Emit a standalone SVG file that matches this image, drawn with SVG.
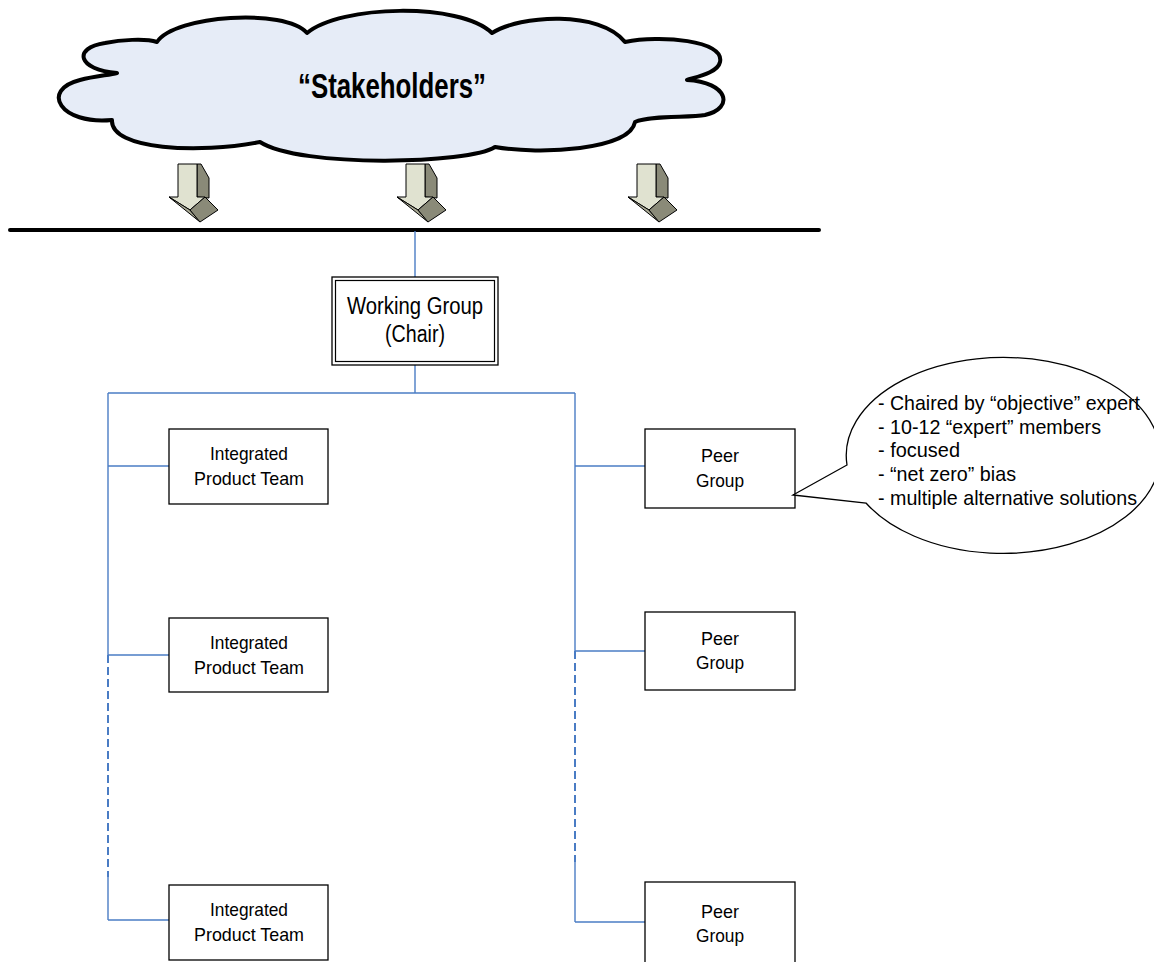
<svg xmlns="http://www.w3.org/2000/svg" width="1154" height="962" viewBox="0 0 1154 962">
<style>
text{font-family:"Liberation Sans",Arial,sans-serif;fill:#000}
.box{fill:#fff;stroke:#000;stroke-width:1.3}
.conn{stroke:#4a7cc4;stroke-width:1.4;fill:none}
.dash{stroke:#4a7cc4;stroke-width:2;fill:none;stroke-dasharray:8 4}
.lbl{font-size:19px;text-anchor:middle}
.note{font-size:21px}
.lt{fill:#e0e2d0;stroke:#000;stroke-width:1}
.dk{fill:#8a8a78;stroke:#000;stroke-width:1}
.md{fill:#a9a994;stroke:#000;stroke-width:1}
</style>
<defs>
<g id="bentArrow">
<polygon class="dk" points="197,164 201,164 209,178 209,198 197,197"/>
<polygon class="lt" points="178,164 197,164 197,197 205,197 190,210 169,197 178,197"/>
<polygon class="md" points="169,197 190,210 200,222"/>
<polygon class="dk" points="190,210 205,197 218,210 200,222"/>
</g>
</defs>
<g id="stakeholders">
<path d="M117,73 C78,70 72,48 105,43 C120,40 145,38 157,42 C175,15 285,8 307,33 C340,5 460,2 492,33 C520,15 600,10 625,42 C660,35 725,40 720,62 C718,72 700,76 687,80 C728,82 735,108 705,115 C690,118 650,115 635,122 C630,150 540,155 495,147 C470,164 300,168 260,142 C200,154 110,150 112,120 C60,125 40,90 80,80 C95,76 110,75 117,73 Z" fill="#e6ecf7" stroke="#000" stroke-width="4" stroke-linejoin="round"/>
<text x="392" y="98" font-size="35" font-weight="bold" text-anchor="middle" textLength="188" lengthAdjust="spacingAndGlyphs">“Stakeholders”</text>
</g>
<g id="arrows">
<use href="#bentArrow"/>
<use href="#bentArrow" x="228"/>
<use href="#bentArrow" x="459"/>
</g>
<line x1="10" y1="230" x2="819" y2="230" stroke="#000" stroke-width="4" stroke-linecap="round"/>
<g id="connectors">
<line class="conn" x1="415" y1="231" x2="415" y2="277"/>
<line class="conn" x1="415" y1="365" x2="415" y2="393"/>
<line class="conn" x1="108" y1="393" x2="575" y2="393"/>
<line class="conn" x1="108" y1="393" x2="108" y2="655"/>
<line class="dash" x1="108" y1="655" x2="108" y2="877"/>
<line class="conn" x1="108" y1="877" x2="108" y2="920"/>
<line class="conn" x1="575" y1="393" x2="575" y2="651"/>
<line class="dash" x1="575" y1="651" x2="575" y2="862"/>
<line class="conn" x1="575" y1="862" x2="575" y2="922"/>
<line class="conn" x1="108" y1="466" x2="169" y2="466"/>
<line class="conn" x1="108" y1="655" x2="169" y2="655"/>
<line class="conn" x1="108" y1="920" x2="169" y2="920"/>
<line class="conn" x1="575" y1="466" x2="645" y2="466"/>
<line class="conn" x1="575" y1="651" x2="645" y2="651"/>
<line class="conn" x1="575" y1="922" x2="645" y2="922"/>
</g>
<g id="working-group">
<rect class="box" x="332" y="277" width="166" height="88"/>
<rect x="335.5" y="280.5" width="159" height="81" fill="none" stroke="#000" stroke-width="1.2"/>
<text x="415" y="314" font-size="23" text-anchor="middle" textLength="136" lengthAdjust="spacingAndGlyphs">Working Group</text>
<text x="415" y="342" font-size="23" text-anchor="middle" textLength="60" lengthAdjust="spacingAndGlyphs">(Chair)</text>
</g>
<g id="ipt1">
<rect class="box" x="169" y="429" width="159" height="75"/>
<text class="lbl" x="249" y="460" textLength="78" lengthAdjust="spacingAndGlyphs">Integrated</text>
<text class="lbl" x="249" y="485" textLength="110" lengthAdjust="spacingAndGlyphs">Product Team</text>
</g>
<g id="ipt2">
<rect class="box" x="169" y="618" width="159" height="74"/>
<text class="lbl" x="249" y="649" textLength="78" lengthAdjust="spacingAndGlyphs">Integrated</text>
<text class="lbl" x="249" y="674" textLength="110" lengthAdjust="spacingAndGlyphs">Product Team</text>
</g>
<g id="ipt3">
<rect class="box" x="169" y="885" width="159" height="75"/>
<text class="lbl" x="249" y="916" textLength="78" lengthAdjust="spacingAndGlyphs">Integrated</text>
<text class="lbl" x="249" y="941" textLength="110" lengthAdjust="spacingAndGlyphs">Product Team</text>
</g>
<g id="peer1">
<rect class="box" x="645" y="429" width="150" height="79"/>
<text class="lbl" x="720" y="462" textLength="38" lengthAdjust="spacingAndGlyphs">Peer</text>
<text class="lbl" x="720" y="487" textLength="48" lengthAdjust="spacingAndGlyphs">Group</text>
</g>
<g id="peer2">
<rect class="box" x="645" y="612" width="150" height="78"/>
<text class="lbl" x="720" y="645" textLength="38" lengthAdjust="spacingAndGlyphs">Peer</text>
<text class="lbl" x="720" y="669" textLength="48" lengthAdjust="spacingAndGlyphs">Group</text>
</g>
<g id="peer3">
<rect class="box" x="645" y="882" width="150" height="90"/>
<text class="lbl" x="720" y="918" textLength="38" lengthAdjust="spacingAndGlyphs">Peer</text>
<text class="lbl" x="720" y="942" textLength="48" lengthAdjust="spacingAndGlyphs">Group</text>
</g>
<g id="callout">
<path d="M847,465 A157 98 0 1 1 866,503 L793,495 Z" fill="#fff" stroke="#000" stroke-width="1.3"/>
<text class="note" x="878" y="410" textLength="262" lengthAdjust="spacingAndGlyphs">- Chaired by “objective” expert</text>
<text class="note" x="878" y="434" textLength="223" lengthAdjust="spacingAndGlyphs">- 10-12 “expert” members</text>
<text class="note" x="878" y="457" textLength="82" lengthAdjust="spacingAndGlyphs">- focused</text>
<text class="note" x="878" y="481" textLength="138" lengthAdjust="spacingAndGlyphs">- “net zero” bias</text>
<text class="note" x="878" y="505" textLength="259" lengthAdjust="spacingAndGlyphs">- multiple alternative solutions</text>
</g>
</svg>
